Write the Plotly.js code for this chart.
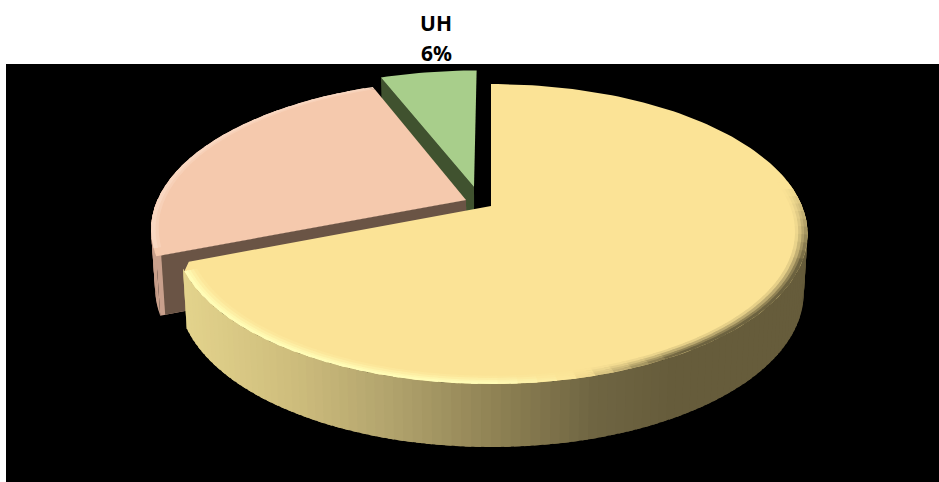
<!DOCTYPE html>
<html><head><meta charset="utf-8">
<script src="https://cdn.plot.ly/plotly-3.0.1.min.js"></script>
<style>html,body{margin:0;padding:0;background:#fff}#c{width:939px;height:482px}</style>
</head><body><div id="c"></div>
<script>
// Data
const categories = ['', '', 'UH'];
const values = [69, 25, 6];
const topColors = ['#fbe396', '#f5c9ad', '#a8ce8b'];
const cutColors = ['#665c3b', '#6a5445', '#40522f'];
// Explosion of each slice in the pie's own plane
const explodeU = [0, -0.081, -0.056];
const explodeV = [0, 0.0417, 0.1345];

// Perspective of the pie
const cx = 491, cy = 206, W = 311, A = 144.8, P = 0.1867;
const project = (U, V) => [cx + W * U / (1 + P * V), cy - A * V / (1 + P * V)];
const rad = d => d * Math.PI / 180;
const hex = c => [1, 3, 5].map(i => parseInt(c.slice(i, i + 2), 16));
const mix = (a, b, t) => { const x = hex(a), y = hex(b);
  return 'rgb(' + x.map((v, i) => Math.round(v + (y[i] - v) * t)).join(',') + ')'; };
const toHex = s => '#' + s.match(/\d+/g).map(n => (+n).toString(16).padStart(2, '0')).join('');
const ramp = (stops, v) => {
  if (v <= stops[0][0]) return stops[0][1];
  for (let i = 1; i < stops.length; i++) if (v <= stops[i][0]) {
    const t = (v - stops[i - 1][0]) / (stops[i][0] - stops[i - 1][0]);
    return toHex(mix(stops[i - 1][1], stops[i][1], t));
  }
  return stops[stops.length - 1][1];
};

const total = values.reduce((a, b) => a + b, 0);
let acc = 0;
const spans = values.map(v => { const s = acc; acc += v; return [s / total * 360, acc / total * 360]; });

const pt = (i, deg, r) => project(explodeU[i] + r * Math.sin(rad(deg)), explodeV[i] + r * Math.cos(rad(deg)));
const planeV = (i, deg, r) => explodeV[i] + r * Math.cos(rad(deg));
const lower = (p, V) => [cx + (p[0] - cx) * 0.988, p[1] + 57.5 - 5.5 * V];

const traces = [];
function poly(points, color) {
  traces.push({ type: 'scatter', mode: 'lines', fill: 'toself', fillcolor: color,
    x: points.map(p => p[0]).concat(points[0][0]), y: points.map(p => p[1]).concat(points[0][1]),
    line: { width: 0 }, hoverinfo: 'skip', showlegend: false });
}
function arc(i, a, b, r, step) {
  const out = [], n = Math.max(1, Math.ceil((b - a) / step));
  for (let k = 0; k <= n; k++) out.push(pt(i, a + (b - a) * k / n, r));
  return out;
}
const CORNER = 3;   // rounded end of a slice's outer arc, in degrees
function topFace(i, rounded) {
  const [a, b] = spans[i];
  const pts = [pt(i, 0, 0)].concat(arc(i, a, rounded ? b - CORNER : b, 1, 1.5));
  if (rounded) pts.push(pt(i, b, 0.975));
  poly(pts, topColors[i]);
}
function cutFace(i, deg, r, color) {
  const a = pt(i, 0, 0), e = pt(i, deg, r);
  poly([a, e, lower(e, planeV(i, deg, r)), lower(a, explodeV[i])], color);
}
const OVERLAP = 1;  // each band runs under the next so no seam shows
function outerWall(i, a, b, colorAt) {
  const step = 1.5;
  for (let d = a; d < b - 0.01; d += step) {
    const e = Math.min(b, d + step + OVERLAP);
    const p1 = pt(i, d, 1), p2 = pt(i, e, 1);
    poly([p1, p2, lower(p2, planeV(i, e, 1)), lower(p1, planeV(i, d, 1))], colorAt(p1[0]));
  }
}
function rim(i, a, b, targetAt, rings) {
  const step = 3;
  rings.forEach(([r0, r1, t]) => {
    for (let d = a; d < b - 0.01; d += step) {
      const e = Math.min(b, d + step + OVERLAP);
      const inner = [pt(i, d, r0 - 0.003), pt(i, e, r0 - 0.003)], outer = [pt(i, e, r1), pt(i, d, r1)];
      poly(inner.concat(outer), mix(topColors[i], targetAt(d), t));
    }
  });
}

const wallStops = [[185, '#e3d38c'], [300, '#cdbc7c'], [400, '#b0a26c'], [500, '#8f8254'],
                   [600, '#6f6542'], [680, '#665c3b'], [810, '#665c3b']];
const rimStops = [[80, '#fbe396'], [110, '#665c3b'], [148, '#665c3b'], [165, '#fbe396'],
                  [178, '#fffdb8'], [250, '#fffdb8']];
const rings = [[0.965, 0.975, 0.15], [0.975, 0.985, 0.42], [0.985, 0.993, 0.72], [0.993, 1, 0.95]];

// Back to front: green, peach, yellow
cutFace(2, spans[2][0], 1, cutColors[2]);
topFace(2, false);

outerWall(1, spans[1][0], spans[1][0] + 22, () => '#c9a08c');
cutFace(1, spans[1][0], 1, '#c9a08c');
cutFace(1, spans[1][0], 0.985, cutColors[1]);
topFace(1, true);
rim(1, spans[1][0] + CORNER, spans[1][1], () => '#fbe0cf', [[0.98, 0.99, 0.3], [0.99, 1, 0.6]]);

outerWall(0, 72, spans[0][1] - CORNER + 1, x => ramp(wallStops, x));
topFace(0, true);
rim(0, 80, spans[0][1] - CORNER, d => ramp(rimStops, d), rings);

const labelIdx = values.length - 1;
const layout = {
  width: 939, height: 482, margin: { l: 0, r: 0, t: 0, b: 0 },
  paper_bgcolor: '#ffffff', plot_bgcolor: '#ffffff', showlegend: false,
  xaxis: { range: [0, 939], visible: false, fixedrange: true },
  yaxis: { range: [482, 0], visible: false, fixedrange: true },
  shapes: [{ type: 'rect', layer: 'below', xref: 'x', yref: 'y', x0: 6, x1: 939, y0: 64, y1: 482,
             fillcolor: '#000000', line: { width: 0 } }],
  annotations: [
    { text: '<b>' + categories[labelIdx] + '</b>', x: 436, y: 23 },
    { text: '<b>' + values[labelIdx] + '%</b>', x: 436, y: 53 }
  ].map(a => Object.assign(a, { xref: 'x', yref: 'y', showarrow: false, xanchor: 'center', yanchor: 'middle',
      font: { family: 'Noto Sans, Open Sans, sans-serif', size: 21, color: '#000000' } }))
};
Plotly.newPlot('c', traces, layout, { displayModeBar: false, staticPlot: true });
</script></body></html>
